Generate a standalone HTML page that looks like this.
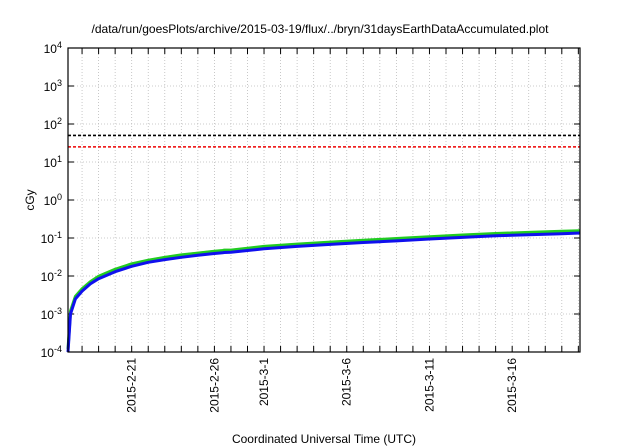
<!DOCTYPE html>
<html><head><meta charset="utf-8"><style>body{margin:0;background:#fff}svg{display:block;font-family:"Liberation Sans",sans-serif}</style></head>
<body>
<svg id="chart" width="640" height="448" viewBox="0 0 640 448"></svg>
<script>
const dayOffsets=[0.15,0.3,0.6,1,1.5,2,3,4,5,6,7,8,9,9.5,9.6,10,11,12,14,16,18,20,22,24,26,28,30,31.1];
const blueValues=[0.0001,0.001,0.0025,0.004,0.0062,0.0085,0.013,0.018,0.023,0.027,0.031,0.035,0.039,0.041,0.0415,0.042,0.047,0.052,0.06,0.068,0.076,0.084,0.094,0.104,0.114,0.122,0.13,0.135];
const greenValues=[0.00012,0.0012,0.0029,0.0046,0.0071,0.0098,0.015,0.021,0.026,0.031,0.036,0.040,0.045,0.047,0.048,0.048,0.054,0.060,0.069,0.078,0.087,0.097,0.108,0.12,0.131,0.140,0.150,0.156];
const orangeValues=[0.00013,0.0013,0.0031,0.0049,0.0075,0.0103,0.0158,0.022,0.027,0.0325,0.0375,0.042,0.047,0.049,0.05,0.05,0.056,0.062,0.072,0.081,0.09,0.1,0.112,0.124,0.136,0.146,0.156,0.163];
const thresholds=[50,25];
const thresholdColors=["#000","#e00"];
const yTickExps=[-4,-3,-2,-1,0,1,2,3,4];
const xLabels=["2015-2-21","2015-2-26","2015-3-1","2015-3-6","2015-3-11","2015-3-16"];
const xLabelDays=[4,9,12,17,22,27];
const L=68,R=580,T=48,B=352,d0=0.15,d1=31.1;
const sx=d=>L+(d-d0)/(d1-d0)*(R-L);
const sy=v=>B-(Math.log10(v)+4)/8*(B-T);
const svg=document.getElementById('chart');const NS="http://www.w3.org/2000/svg";
function mk(t,a,txt){const e=document.createElementNS(NS,t);for(const k in a)e.setAttribute(k,a[k]);if(txt!==undefined)e.textContent=txt;svg.appendChild(e);return e;}
let e=mk('text',{x:320,y:33,'text-anchor':'middle','font-size':12},'/data/run/goesPlots/archive/2015-03-19/flux/../bryn/31daysEarthDataAccumulated.plot');

// grid & ticks
for(let d=1;d<=31;d++){const x=sx(d);if(x<=L||x>=R)continue;
 e=mk('line',{x1:x,x2:x,y1:T,y2:B,stroke:'#bbb','stroke-dasharray':'1,2','stroke-width':0.8});
 mk('line',{x1:x,x2:x,y1:B,y2:B-6,stroke:'#000'});mk('line',{x1:x,x2:x,y1:T,y2:T+6,stroke:'#000'});}
yTickExps.forEach(p=>{const y=sy(Math.pow(10,p));
 if(p>-4&&p<4){e=mk('line',{x1:L,x2:R,y1:y,y2:y,stroke:'#bbb','stroke-dasharray':'1,2','stroke-width':0.8});
 mk('line',{x1:L,x2:L+6,y1:y,y2:y,stroke:'#000'});mk('line',{x1:R,x2:R-6,y1:y,y2:y,stroke:'#000'});}
 const t=mk('text',{x:L-6,y:y+5,'text-anchor':'end','font-size':12});
 t.innerHTML='10<tspan dy="-5" font-size="9">'+p+'</tspan>';});
xLabels.forEach((s,i)=>{const x=sx(xLabelDays[i]);const t=mk('text',{x:0,y:0,'text-anchor':'end','font-size':12,transform:`translate(${x+4},${B+6}) rotate(-90)`},s);
 });
thresholds.forEach((v,i)=>{e=mk('line',{x1:L,x2:R,y1:sy(v),y2:sy(v),stroke:thresholdColors[i],'stroke-width':1.6,'stroke-dasharray':'3,2'});});
function series(vals,col,w,name){const p=vals.map((v,i)=>(i?'L':'M')+sx(dayOffsets[i]).toFixed(1)+','+sy(v).toFixed(1)).join('');
 e=mk('path',{d:p,fill:'none',stroke:col,'stroke-width':w,'stroke-linejoin':'round'});}
series(orangeValues,'#e8a040',1,'orange-series');
series(greenValues,'#22cc22',3,'green-series');
series(blueValues,'#1010ee',3,'blue-series');
e=mk('rect',{x:L,y:T,width:R-L,height:B-T,fill:'none',stroke:'#000','stroke-width':1.2});
e=mk('text',{x:0,y:0,'text-anchor':'middle','font-size':12,transform:'translate(34,200) rotate(-90)'},'cGy');
e=mk('text',{x:324,y:443,'text-anchor':'middle','font-size':12},'Coordinated Universal Time (UTC)');
</script>
</body></html>
